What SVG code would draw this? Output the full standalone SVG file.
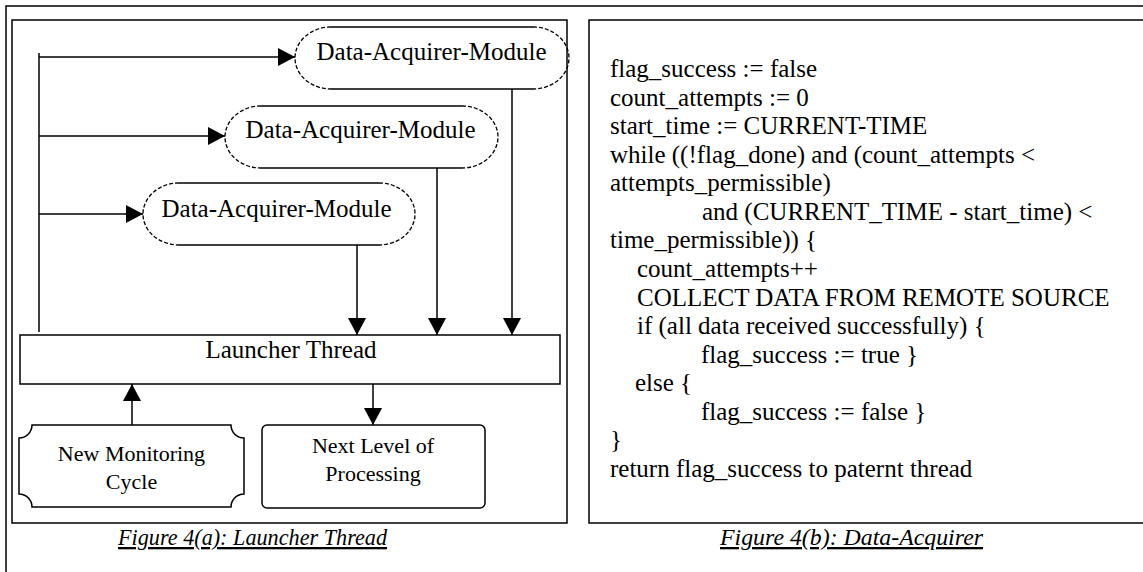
<svg xmlns="http://www.w3.org/2000/svg" width="1143" height="572" viewBox="0 0 1143 572">
<style>
.frame{fill:none;stroke:#000;stroke-width:1.5}
.solid{fill:none;stroke:#000;stroke-width:1.5}
.dash{fill:none;stroke:#000;stroke-width:1.3;stroke-dasharray:4 2}
.box{fill:#fff;stroke:#000;stroke-width:1.5}
.conn{fill:none;stroke:#000;stroke-width:1.5}
.t{font-family:"Liberation Serif","Times New Roman",serif;font-size:25px;fill:#000}
.ts{font-family:"Liberation Serif","Times New Roman",serif;font-size:22px;fill:#000}
.cap{font-family:"Liberation Serif","Times New Roman",serif;font-size:23px;font-style:italic;text-decoration:underline;fill:#000}
</style>
<defs>
<marker id="ah" markerUnits="userSpaceOnUse" markerWidth="18" markerHeight="18" refX="17" refY="9" orient="auto">
<path d="M0,0 L17,9 L0,18 Z" fill="#000"/>
</marker>
</defs>
<rect width="1143" height="572" fill="#fff"/>
<g id="frames">
<rect class="frame" x="6" y="6" width="1160" height="600"/>
<rect class="frame" x="12" y="20" width="555" height="503"/>
<rect class="frame" x="589" y="20" width="580" height="503"/>
</g>
<g id="connectors">
<line class="conn" x1="39" y1="53" x2="39" y2="332"/>
<line class="conn" x1="39" y1="57" x2="295" y2="57" marker-end="url(#ah)"/>
<line class="conn" x1="39" y1="136" x2="225" y2="136" marker-end="url(#ah)"/>
<line class="conn" x1="39" y1="214" x2="143" y2="214" marker-end="url(#ah)"/>
<line class="conn" x1="357" y1="245" x2="357" y2="335" marker-end="url(#ah)"/>
<line class="conn" x1="437" y1="168" x2="437" y2="335" marker-end="url(#ah)"/>
<line class="conn" x1="512" y1="89" x2="512" y2="335" marker-end="url(#ah)"/>
<line class="conn" x1="132" y1="425" x2="132" y2="384" marker-end="url(#ah)"/>
<line class="conn" x1="373" y1="384" x2="373" y2="425" marker-end="url(#ah)"/>
</g>
<g id="dam1">
<path class="solid" d="M331,27 H533 M331,89 H533"/>
<path class="dash" d="M331,27 A36,31 0 0 0 331,89 M533,27 A36,31 0 0 1 533,89"/>
<text class="t" x="431.5" y="60" text-anchor="middle">Data-Acquirer-Module</text>
</g>
<g id="dam2">
<path class="solid" d="M261,106 H462 M261,168 H462"/>
<path class="dash" d="M261,106 A36,31 0 0 0 261,168 M462,106 A36,31 0 0 1 462,168"/>
<text class="t" x="360.5" y="138" text-anchor="middle">Data-Acquirer-Module</text>
</g>
<g id="dam3">
<path class="solid" d="M179,183 H379 M179,245 H379"/>
<path class="dash" d="M179,183 A36,31 0 0 0 179,245 M379,183 A36,31 0 0 1 379,245"/>
<text class="t" x="276.5" y="217" text-anchor="middle">Data-Acquirer-Module</text>
</g>
<g id="launcher">
<rect class="box" x="20" y="335" width="540" height="49"/>
<text class="t" x="291" y="358" text-anchor="middle">Launcher Thread</text>
</g>
<g id="newcycle">
<path class="box" d="M32,425 H231 A13,13 0 0 0 244,438 V494 A13,13 0 0 0 231,507 H32 A13,13 0 0 0 19,494 V438 A13,13 0 0 0 32,425 Z"/>
<text class="ts" x="131.5" y="461" text-anchor="middle">New Monitoring</text>
<text class="ts" x="131.5" y="489" text-anchor="middle">Cycle</text>
</g>
<g id="nextlevel">
<rect class="box" x="262" y="425" width="223" height="83" rx="5"/>
<text class="ts" x="373" y="453" text-anchor="middle">Next Level of</text>
<text class="ts" x="373" y="481" text-anchor="middle">Processing</text>
</g>
<g id="code">
<text class="t" x="610" y="77">flag_success := false</text>
<text class="t" x="610" y="105.6">count_attempts := 0</text>
<text class="t" x="610" y="134.1">start_time := CURRENT-TIME</text>
<text class="t" x="610" y="162.7">while ((!flag_done) and (count_attempts &lt;</text>
<text class="t" x="610" y="191.3">attempts_permissible)</text>
<text class="t" x="702" y="219.9">and (CURRENT_TIME -  start_time) &lt;</text>
<text class="t" x="610" y="248.4">time_permissible)) {</text>
<text class="t" x="637" y="277">count_attempts++</text>
<text class="t" x="637" y="305.6">COLLECT DATA FROM REMOTE SOURCE</text>
<text class="t" x="637" y="334.1">if (all data received successfully) {</text>
<text class="t" x="701" y="362.7">flag_success := true }</text>
<text class="t" x="635" y="391.3">else {</text>
<text class="t" x="701" y="419.9">flag_success := false }</text>
<text class="t" x="610" y="448.4">}</text>
<text class="t" x="610" y="477">return flag_success to paternt thread</text>
</g>
<g id="captions">
<text class="cap" x="252.5" y="545" text-anchor="middle" textLength="269" lengthAdjust="spacingAndGlyphs">Figure 4(a): Launcher Thread</text>
<text class="cap" x="851.5" y="545" text-anchor="middle" textLength="263" lengthAdjust="spacingAndGlyphs">Figure 4(b): Data-Acquirer</text>
</g>
</svg>
